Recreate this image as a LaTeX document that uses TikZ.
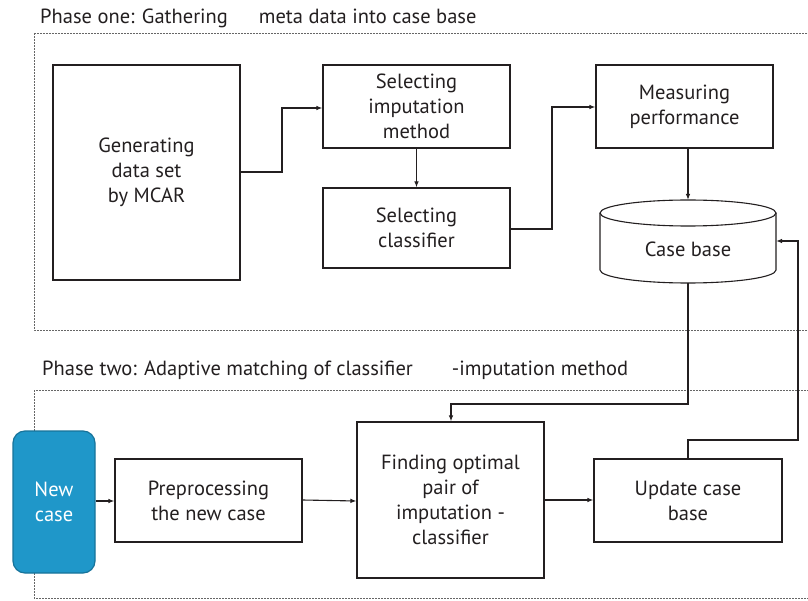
\documentclass[tikz,border=0pt]{standalone}
\usepackage{fontspec}
\setmainfont{PT Sans}
\usetikzlibrary{arrows.meta,shapes.geometric}
\definecolor{ink}{HTML}{231F20}
\definecolor{ncfill}{HTML}{1F97C9}
\definecolor{ncdraw}{HTML}{17739A}
\begin{document}
\begin{tikzpicture}[x=1pt,y=-1pt,
  every node/.style={font=\fontsize{20.5}{25}\selectfont, text=ink, align=center},
  procbox/.style={draw=ink, line width=1.1pt, inner sep=0pt},
  conn/.style={draw=ink, line width=1.1pt},
  arr/.style={conn, -{Latex[length=6pt,width=4.5pt]}},
  phase/.style={draw=gray!80!black, line width=0.8pt, dash pattern=on 2pt off 1pt},
  lbl/.style={anchor=base west, inner sep=0pt, font=\fontsize{20.5}{24}\selectfont}]
\useasboundingbox (0,0) rectangle (808,601);
\begin{scope}
\clip (0,0) rectangle (808,601);
\draw[phase] (34,33) rectangle (815,330);
\draw[phase] (34,390) rectangle (815,598);
\end{scope}
\node[lbl] (p1) at (40,24) {Phase one: Gathering\hspace{31pt}meta data into case base};
\node[lbl] (p2) at (42,375) {Phase two: Adaptive matching of classifier\hspace{39pt}-imputation method};

\node[procbox, minimum width=187pt, minimum height=215pt] (gen) at (146.5,172.5) {Generating\\data set\\by\ MCAR};
\node[procbox, minimum width=187pt, minimum height=83pt] (simp) at (416.5,106.5) {Selecting\\imputation\\method};
\node[procbox, minimum width=187pt, minimum height=80pt] (scls) at (416.5,228) {Selecting\\classifier};
\node[procbox, minimum width=177pt, minimum height=83pt] (meas) at (684.5,106.5) {Measuring\\performance};

% cylinder case base
\coordinate (cbT) at (688,200);
\coordinate (cbB) at (688,283);
\coordinate (cbR) at (776,241);
\draw[conn, fill=white] (600,213) -- (600,270) arc[start angle=180, end angle=0, x radius=88, y radius=13] -- (776,213);
\draw[conn, fill=white] (688,213) ellipse[x radius=88, y radius=13];
\node (cb) at (688,249) {Case base};

\node[draw=ncdraw, fill=ncfill, line width=1.2pt, rounded corners=12pt, minimum width=82pt, minimum height=142pt, text=white] (nc) at (54,502) {New\\case};
\node[procbox, minimum width=187pt, minimum height=83pt] (pre) at (208.5,500.5) {Preprocessing\\the new case};
\node[procbox, minimum width=187pt, minimum height=156pt] (find) at (450.5,500) {Finding optimal\\pair of\\imputation -\\classifier};
\node[procbox, minimum width=188pt, minimum height=83pt] (upd) at (688,500.5) {Update case\\base};

\draw[arr] (gen.east |- 0,172) -- (282,172) -- (282,108) -- (simp.west |- 0,108);
\draw[arr] (simp.south) -- (scls.north);
\draw[arr] (scls.east |- 0,229) -- (552,229) -- (552,107) -- (meas.west |- 0,107);
\draw[arr] (meas.south -| cbT) -- (cbT);
\draw[arr] (cbB) -- (688,404) -- (451,404) -- (find.north -| 451,0);
\draw[arr] (upd.north) -- (688,440) -- (798,440) -- (798,241) -- (cbR);
\draw[arr] (nc.east |- 0,501) -- (pre.west |- 0,501);
\draw[arr] (pre.east |- 0,500) -- (find.west |- 0,501);
\draw[arr] (find.east |- 0,500) -- (upd.west |- 0,500);
\end{tikzpicture}
\end{document}
